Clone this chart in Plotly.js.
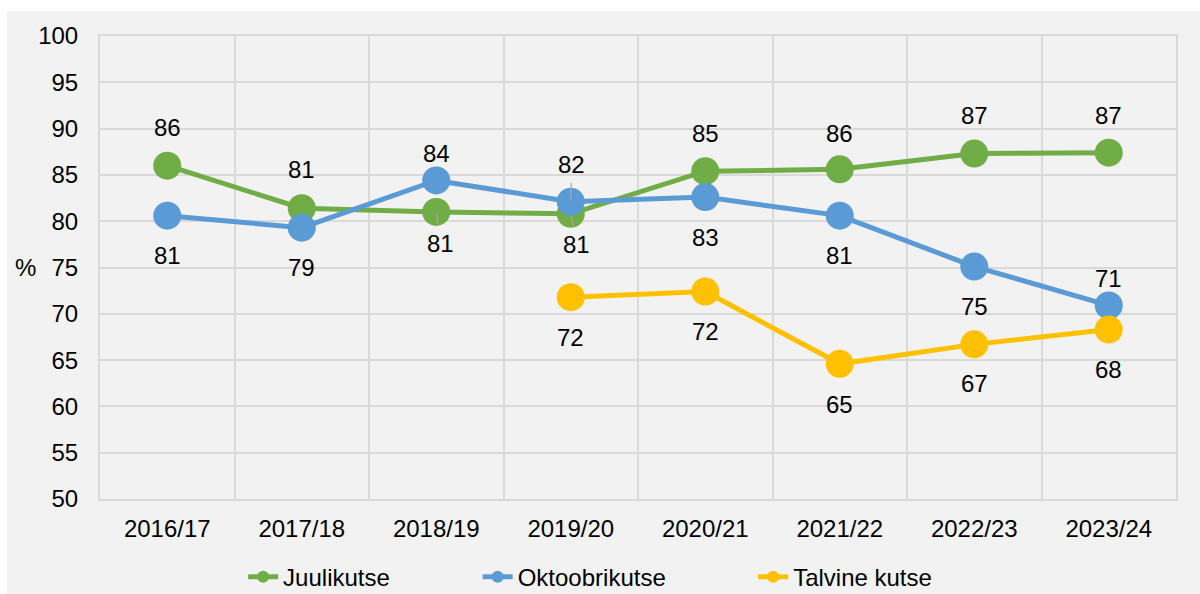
<!DOCTYPE html>
<html>
<head>
<meta charset="utf-8">
<script src="https://cdn.plot.ly/plotly-3.0.1.min.js"></script>
<style>
  html, body { margin: 0; padding: 0; background: #ffffff; }
  #chart { position: absolute; left: 7px; top: 11px; width: 1193px; height: 583px; }
</style>
</head>
<body>
<div id="chart"></div>
<script>
// ---- data ----
const seasons = ["2016/17", "2017/18", "2018/19", "2019/20", "2020/21", "2021/22", "2022/23", "2023/24"];
const juuliValues   = [86.0, 81.4, 81.0, 80.8, 85.4, 85.6, 87.3, 87.4];
const oktoobriValues = [80.6, 79.3, 84.4, 82.1, 82.6, 80.6, 75.1, 70.9];
const talvineValues = [null, null, null, 71.8, 72.4, 64.6, 66.7, 68.3];
const juuliLabels    = ["86", "81", "81", "81", "85", "86", "87", "87"];
const oktoobriLabels = ["81", "79", "84", "82", "83", "81", "75", "71"];
const talvineLabels  = ["", "", "", "72", "72", "65", "67", "68"];
const seriesNames = ["Juulikutse", "Oktoobrikutse", "Talvine kutse"];
const yTicks = [50, 55, 60, 65, 70, 75, 80, 85, 90, 95, 100];

// ---- label placement (style only) ----
// [dx, dy, leader]
const juuliPlace = [[0,-38,0],[0,-39,0],[4,32,1],[6,31,1],[0,-38,0],[0,-36,0],[0,-38,0],[0,-37,0]];
const oktoobriPlace = [[0,40,0],[0,40,0],[0,-27,0],[1,-37,1],[0,40,0],[0,40,0],[0,40,0],[0,-27,0]];
const talvinePlace = [null,null,null,[0,40,0],[0,40,0],[0,41,0],[0,39,0],[0,40,0]];

const colors = ["#70ad47", "#5b9bd5", "#ffc000"];
const FONT = "Liberation Sans, Arial, sans-serif";
const FS = 24;

function trace(values, name, color, legendId) {
  return {
    type: "scatter", mode: "lines+markers", name: name,
    x: seasons, y: values,
    line: { color: color, width: 5 },
    marker: { color: color, size: 28 },
    connectgaps: false,
    legend: legendId,
    hoverinfo: "skip"
  };
}

const data = [
  trace(juuliValues, seriesNames[0], colors[0], "legend"),
  trace(oktoobriValues, seriesNames[1], colors[1], "legend2"),
  trace(talvineValues, seriesNames[2], colors[2], "legend3")
];

const annotations = [];
function addLabels(values, labels, place) {
  values.forEach((v, i) => {
    if (v === null || !place[i]) return;
    const p = place[i];
    annotations.push({
      x: seasons[i], y: v, xref: "x", yref: "y",
      text: labels[i],
      showarrow: true,
      ax: p[0], ay: p[1],
      arrowhead: 0,
      arrowwidth: 1.2,
      arrowcolor: p[2] ? "#a6a6a6" : "rgba(0,0,0,0)",
      standoff: 2,
      startstandoff: 3,
      font: { family: FONT, size: FS, color: "#000000" }
    });
  });
}
addLabels(juuliValues, juuliLabels, juuliPlace);
addLabels(oktoobriValues, oktoobriLabels, oktoobriPlace);
addLabels(talvineValues, talvineLabels, talvinePlace);

annotations.push({
  xref: "paper", yref: "y", x: 0, y: 75, xanchor: "center", yanchor: "middle",
  xshift: -75, text: "%", showarrow: false,
  font: { family: FONT, size: FS, color: "#000000" }
});

function legendAt(x) {
  return {
    orientation: "h", x: x, xanchor: "left", xref: "paper",
    y: 0.029, yanchor: "middle", yref: "container",
    itemsizing: "constant", bgcolor: "rgba(0,0,0,0)",
    font: { family: FONT, size: FS, color: "#000000" }
  };
}

const layout = {
  width: 1193, height: 583,
  margin: { l: 93, r: 24, t: 25, b: 95 },
  paper_bgcolor: "#f2f2f2",
  plot_bgcolor: "#f2f2f2",
  font: { family: FONT, size: FS, color: "#000000" },
  showlegend: true,
  legend: legendAt(0.133),
  legend2: legendAt(0.351),
  legend3: legendAt(0.607),
  xaxis: {
    type: "category", range: [-0.5, 7.5],
    tickson: "boundaries", ticks: "", showgrid: true,
    gridcolor: "#d9d9d9", gridwidth: 2,
    showline: true, linecolor: "#d9d9d9", linewidth: 2, mirror: true,
    zeroline: false, fixedrange: true, automargin: false,
    tickfont: { family: FONT, size: FS, color: "#000000" },
    ticklabelstandoff: 7
  },
  yaxis: {
    range: [50, 100], tickvals: yTicks, ticktext: yTicks.map(String),
    showgrid: true, gridcolor: "#d9d9d9", gridwidth: 2,
    showline: true, linecolor: "#d9d9d9", linewidth: 2, mirror: true,
    zeroline: false, ticks: "", fixedrange: true, automargin: false,
    tickfont: { family: FONT, size: FS, color: "#000000" },
    ticklabelstandoff: 15
  },
  annotations: annotations
};

Plotly.newPlot("chart", data, layout, { displayModeBar: false, staticPlot: true });
</script>
</body>
</html>
